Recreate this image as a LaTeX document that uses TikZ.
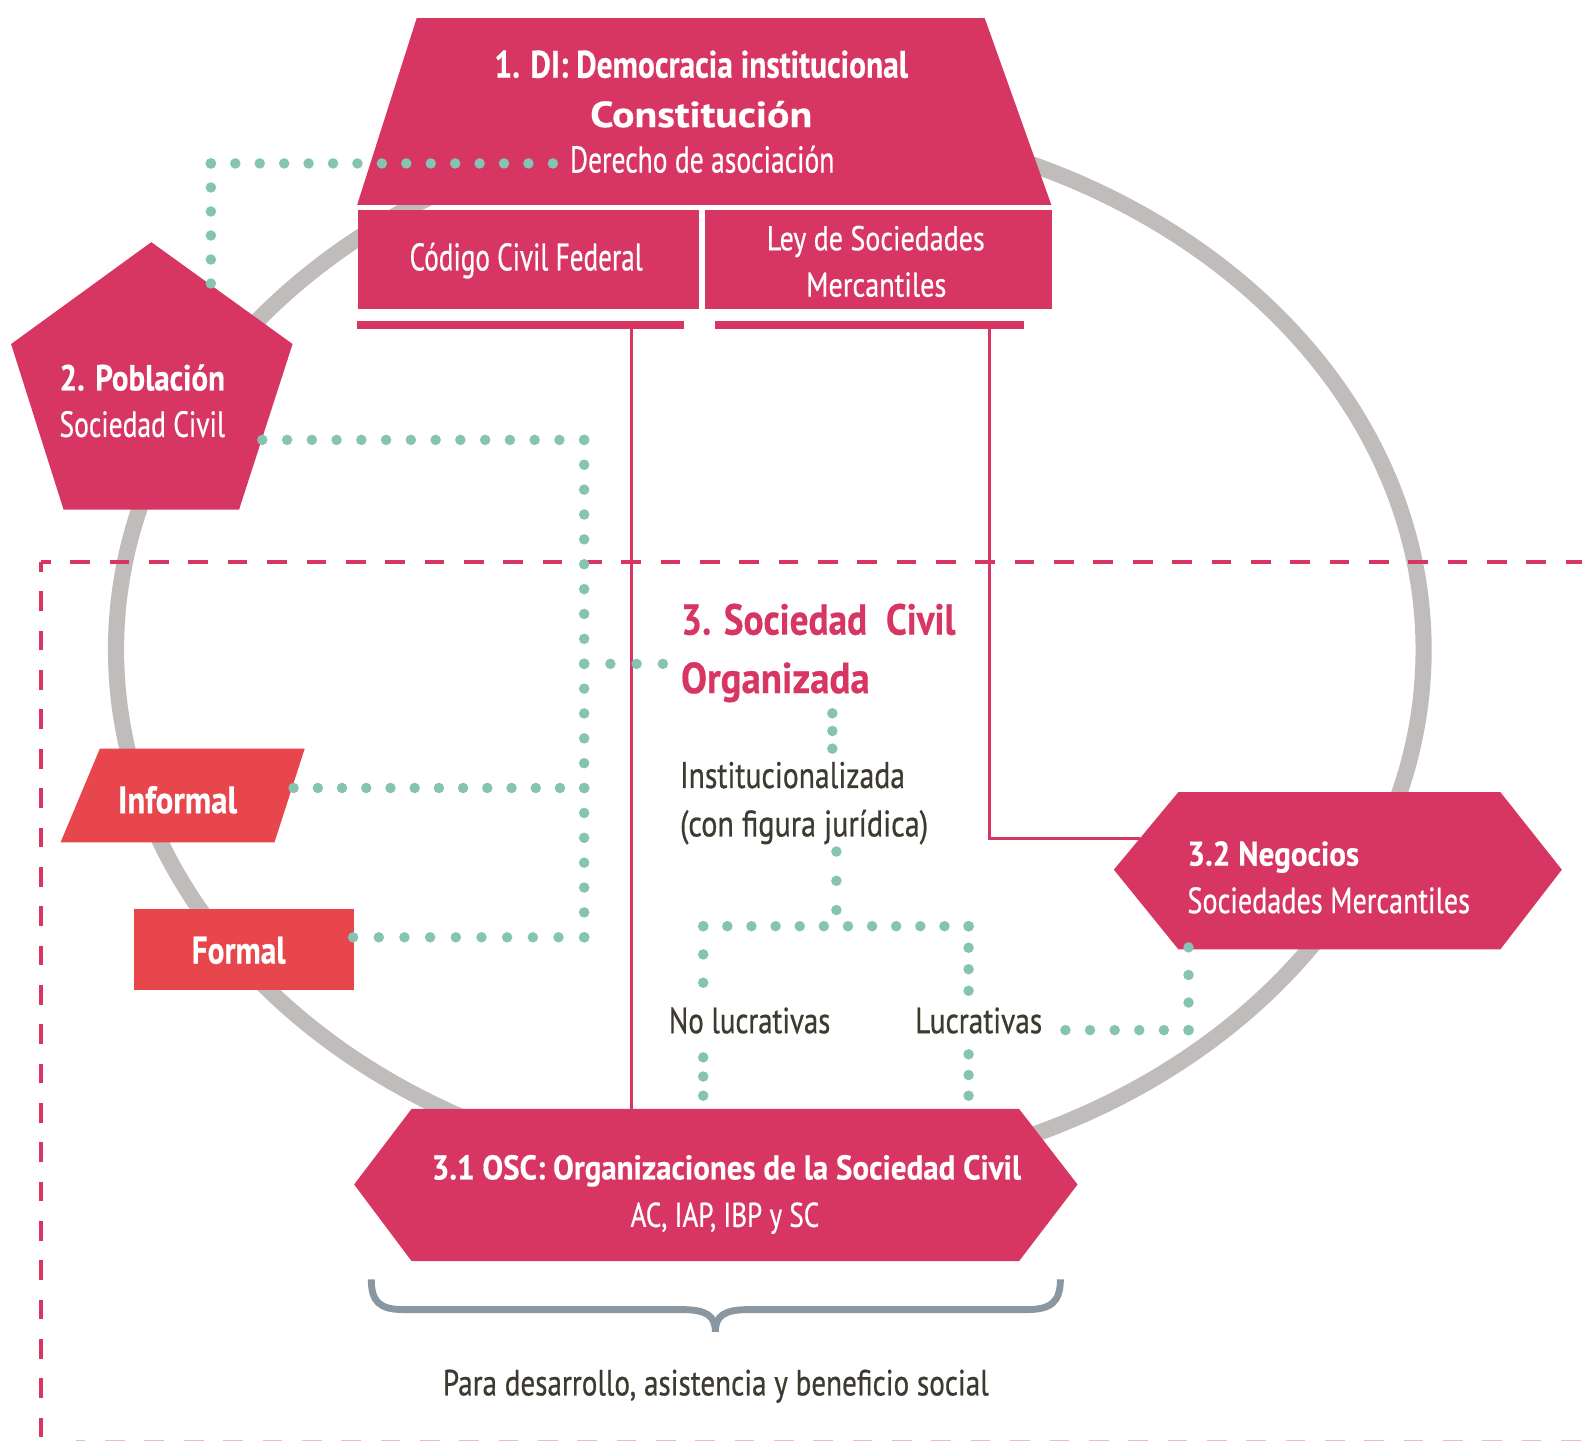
\documentclass[tikz,border=0pt]{standalone}
\usepackage{fontspec}
\setmainfont{PT Sans}
\newfontfamily\rg{PT Sans}[FakeBold=0.7]
\newfontfamily\bd{PT Sans Bold}[FakeBold=0.4]
\usetikzlibrary{calc}
\definecolor{pk}{HTML}{D83662}
\definecolor{rd}{HTML}{E8464D}
\definecolor{tl}{HTML}{85C4B3}
\definecolor{gr}{HTML}{C0BCBB}
\definecolor{br}{HTML}{8A97A0}
\definecolor{dk}{HTML}{3D3A30}
\newdimen\upx \upx=0.5pt
\newcommand{\tw}[2]{\resizebox{#1\upx}{\height}{#2}}
\newcommand{\dotrow}[3]{\foreach \i in {0,...,#3} \fill[tl] ($(#1)!\i/#3!(#2)$) circle (2.6pt);}
\tikzset{
  lbl/.style={inner sep=0pt, outer sep=0pt, anchor=base west},
  wt/.style={lbl, text=white},
  dt/.style={lbl, text=dk},
  pt/.style={lbl, text=pk},
  fs/.style={font=\fontsize{#1}{#1}\selectfont},
  pkfill/.style={fill=pk, draw=none},
  rdfill/.style={fill=rd, draw=none},
  pkline/.style={draw=pk, line width=1.5pt},
  dashline/.style={draw=pk, line width=1.7pt, dash pattern=on 9.75pt off 9.75pt, dash phase=4.9pt},
  ring/.style={draw=gr, line width=8pt},
  brace/.style={draw=br, line width=3.4pt}
}
\begin{document}
\begin{tikzpicture}[x=0.5pt,y=-0.5pt]
\useasboundingbox (0,0) rectangle (1568,1428);
\fill[white] (0,0) rectangle (1568,1428);
% big ring
\draw[ring] (763,644) ellipse [x radius=324pt, y radius=262.5pt];
% dashed frame
\draw[dashline] (40.6,557) -- (1568,557);
\draw[dashline] (40.6,557) -- (40.6,1440);
\draw[dashline, draw=pk!35] (75,1429) -- (1568,1429);
% 1. trapezoid
\fill[pkfill] (413,18) -- (976,18) -- (1042,203) -- (354,203) -- cycle;
\node[pkfill, inner sep=0pt, minimum width=338\upx, minimum height=98\upx, anchor=north west] (ccf) at (354,208) {};
\node[pkfill, inner sep=0pt, minimum width=344\upx, minimum height=98\upx, anchor=north west] (lsm) at (698,208) {};
\fill[pk] (354,318) rectangle (678,326);
\fill[pk] (709,318) rectangle (1015,326);
\coordinate (ccfU) at (626,326);
\coordinate (lsmU) at (981,326);
% pink connectors
\coordinate (oscTop) at (626,1099);
\coordinate (lsmTurn) at (981,831);
\coordinate (negL) at (1130,831);
\draw[pkline] (ccfU) -- (oscTop);
\draw[pkline] (lsmU) -- (lsmTurn) -- (negL);
% 2. pentagon
\fill[pkfill] (150,240) -- (290,341) -- (237,505) -- (63,505) -- (11,341) -- cycle;
% Informal / Formal
\fill[rdfill] (99,742) -- (302,742) -- (272,835) -- (60,835) -- cycle;
\node[rdfill, inner sep=0pt, minimum width=218\upx, minimum height=80\upx, anchor=north west] (formalbox) at (132,901) {};
% 3.2 Negocios
\fill[pkfill] (1104,862) -- (1168,785) -- (1487,785) -- (1548,862) -- (1487,941) -- (1168,941) -- cycle;
% 3.1 OSC
\fill[pkfill] (351,1174) -- (408,1099) -- (1010,1099) -- (1068,1174) -- (1010,1250) -- (408,1250) -- cycle;
% brace
\draw[brace] (368,1268) .. controls (368,1290) and (376,1298) .. (400,1298) -- (676,1298)
  .. controls (700,1298) and (709,1304) .. (709,1320)
  .. controls (709,1304) and (718,1298) .. (742,1298) -- (1018,1298)
  .. controls (1042,1298) and (1051,1290) .. (1051,1268);
% texts
\node[wt, fs=19pt] (t1) at (490,77) {\tw{410}{\bd 1. DI: Democracia institucional}};
\node[wt, fs=18pt] (t1b) at (585,126) {\tw{220}{\bd Constitución}};
\node[wt, fs=18.5pt] (t1c) at (565,171) {\tw{262}{\rg Derecho de asociación}};
\node[wt, fs=19pt] (tccf) at (406,268) {\tw{231}{\rg Código Civil Federal}};
\node[wt, fs=17pt] (tlsm1) at (760,248) {\tw{216}{\rg Ley de Sociedades}};
\node[wt, fs=17pt] (tlsm2) at (799,294) {\tw{139}{\rg Mercantiles}};
\node[wt, fs=18pt] (t2a) at (59,387) {\tw{164}{\bd 2. Población}};
\node[wt, fs=18pt] (t2b) at (59,433) {\tw{164}{\rg Sociedad Civil}};
\node[pt, fs=21.5pt] (t3a) at (675,629) {\tw{272}{\bd 3. Sociedad~ Civil}};
\node[pt, fs=21.5pt] (t3b) at (675,687) {\tw{187}{\bd Organizada}};
\node[dt, fs=18.3pt] (ti1) at (674,781) {\tw{223}{\rg Institucionalizada}};
\node[dt, fs=18.3pt] (ti2) at (674,829) {\tw{246}{\rg (con figura jurídica)}};
\node[dt, fs=18pt] (tnl) at (663,1024) {\tw{160}{\rg No lucrativas}};
\node[dt, fs=18pt] (tl) at (907,1024) {\tw{126}{\rg Lucrativas}};
\node[wt, fs=17pt] (tn1) at (1177,858) {\tw{170}{\bd 3.2 Negocios}};
\node[wt, fs=18pt] (tn2) at (1177,905) {\tw{280}{\rg Sociedades Mercantiles}};
\node[wt, fs=19pt] (tinf) at (117,806) {\tw{118}{\bd Informal}};
\node[wt, fs=19pt] (tfor) at (190,955) {\tw{93}{\bd Formal}};
\node[wt, fs=17pt] (to1) at (428,1169) {\tw{584}{\bd 3.1 OSC: Organizaciones de la Sociedad Civil}};
\node[wt, fs=17pt] (to2) at (625,1216) {\tw{187}{\rg AC, IAP, IBP y SC}};
\node[dt, fs=18pt] (tp) at (439,1383) {\tw{541}{\rg Para desarrollo, asistencia y beneficio social}};
% teal dotted connectors
\coordinate (dA1) at (548,162); \coordinate (dA2) at (209,162); \coordinate (dA3) at (209,281);
\dotrow{dA1}{dA2}{14} \dotrow{dA2}{dA3}{5}
\coordinate (dB1) at (260,436); \coordinate (dB2) at (579,436); \coordinate (dB3) at (579,929);
\dotrow{dB1}{dB2}{13} \dotrow{dB2}{dB3}{20}
\coordinate (dC1) at (579,658); \coordinate (dC2) at (657,658);
\dotrow{dC1}{dC2}{3}
\coordinate (dD1) at (291,781); \coordinate (dD2) at (579,781);
\dotrow{dD1}{dD2}{12}
\coordinate (dE1) at (350,929);
\dotrow{dE1}{dB3}{9}
\coordinate (dF1) at (825,707); \coordinate (dF2) at (825,742);
\dotrow{dF1}{dF2}{2}
\coordinate (dG1) at (829,844); \coordinate (dG2) at (829,902);
\dotrow{dG1}{dG2}{2}
\coordinate (dH1) at (697,918); \coordinate (dH2) at (960,918);
\dotrow{dH1}{dH2}{11}
\coordinate (dI2) at (697,974); \coordinate (dJ2) at (960,982);
\dotrow{dH1}{dI2}{2} \dotrow{dH2}{dJ2}{3}
\coordinate (dK1) at (697,1048); \coordinate (dK2) at (697,1086);
\dotrow{dK1}{dK2}{2}
\coordinate (dL1) at (960,1045); \coordinate (dL2) at (960,1086);
\dotrow{dL1}{dL2}{2}
\coordinate (dM1) at (1056,1021); \coordinate (dM2) at (1178,1021); \coordinate (dM3) at (1178,939);
\dotrow{dM1}{dM2}{5} \dotrow{dM2}{dM3}{3}
\end{tikzpicture}
\end{document}
